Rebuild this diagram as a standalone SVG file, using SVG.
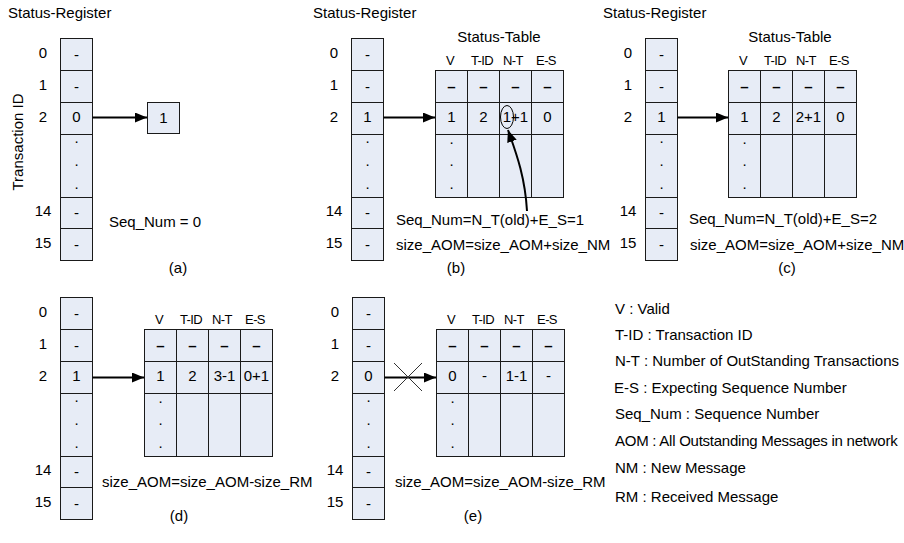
<svg xmlns="http://www.w3.org/2000/svg" width="904" height="543" viewBox="0 0 904 543">
  <style>
    text { font-family: "Liberation Sans", Arial, sans-serif; font-size: 15px; fill: #000; }
    .c { text-anchor: middle; }
    .hdr { font-size: 13px; text-anchor: middle; letter-spacing: -0.6px; }
    .cell { fill: #E7ECF6; stroke: #1a1a1a; stroke-width: 1; }
    .grid { stroke: #1a1a1a; stroke-width: 1; fill: none; }
    .conn { stroke: #000; stroke-width: 2; fill: none; }
    .cross { stroke: #333; stroke-width: 1; }
    .ell { stroke: #000; stroke-width: 1; fill: none; }
  </style>
  <defs>
    <marker id="arrow" viewBox="0 0 12 10" refX="12" refY="5" markerWidth="12" markerHeight="10" markerUnits="userSpaceOnUse" orient="auto">
      <path d="M0,0 L12,5 L0,10 z" fill="#000"/>
    </marker>
    <!-- 16-entry status register column (rows 0,1,2, dots, 14, 15) -->
    <g id="register-shape">
      <rect class="cell" x="0.5" y="0.5" width="32" height="222"/>
      <path class="grid" d="M0.5,32.5 H32.5 M0.5,64.5 H32.5 M0.5,96.5 H32.5 M0.5,159.5 H32.5 M0.5,190.5 H32.5"/>
      <text class="c" x="16.5" y="22">-</text>
      <text class="c" x="16.5" y="54">-</text>
      <text class="c" x="16.5" y="105">.</text>
      <text class="c" x="16.5" y="128">.</text>
      <text class="c" x="16.5" y="151">.</text>
      <text class="c" x="16.5" y="180">-</text>
      <text class="c" x="16.5" y="212">-</text>
      <text class="c" x="-17" y="20">0</text>
      <text class="c" x="-17" y="52">1</text>
      <text class="c" x="-17" y="84">2</text>
      <text class="c" x="-17" y="178">14</text>
      <text class="c" x="-17" y="210">15</text>
    </g>
    <!-- 4-column status table grid with header row -->
    <g id="table-shape">
      <rect class="cell" x="0.5" y="0.5" width="128" height="127"/>
      <path class="grid" d="M32.5,0.5 V127.5 M64.5,0.5 V127.5 M96.5,0.5 V127.5 M0.5,32.5 H128.5 M0.5,64.5 H128.5"/>
      <text class="hdr" x="15" y="-5">V</text>
      <text class="hdr" x="47" y="-5">T-ID</text>
      <text class="hdr" x="78" y="-5">N-T</text>
      <text class="hdr" x="111" y="-5">E-S</text>
      <text class="c" x="16.5" y="22" font-weight="bold">–</text>
      <text class="c" x="48.5" y="22" font-weight="bold">–</text>
      <text class="c" x="80.5" y="22" font-weight="bold">–</text>
      <text class="c" x="112.5" y="22" font-weight="bold">–</text>
      <text class="c" x="16.5" y="74">.</text>
      <text class="c" x="16.5" y="96">.</text>
      <text class="c" x="16.5" y="119">.</text>
    </g>
  </defs>

  <!-- panel titles -->
  <text x="8" y="18">Status-Register</text>
  <text x="313" y="18">Status-Register</text>
  <text x="603" y="18">Status-Register</text>
  <text class="c" x="499" y="42">Status-Table</text>
  <text class="c" x="790" y="42">Status-Table</text>
  <text class="c" transform="translate(23,142) rotate(-90)" font-size="16">Transaction ID</text>

  <!-- (a) -->
  <g id="reg-a">
    <use href="#register-shape" x="60" y="38"/>
    <text class="c" x="76.5" y="122">0</text>
  </g>
  <g id="box-a">
    <rect class="cell" x="147.5" y="102.5" width="32" height="31"/>
    <text class="c" x="163.5" y="123" font-size="17">1</text>
  </g>
  <text x="109" y="227">Seq_Num = 0</text>
  <text class="c" x="178" y="273">(a)</text>

  <!-- (b) -->
  <g id="reg-b">
    <use href="#register-shape" x="351" y="38"/>
    <text class="c" x="367.5" y="122">1</text>
  </g>
  <g id="table-b">
    <use href="#table-shape" x="435" y="70"/>
    <text class="c" x="451.5" y="122">1</text>
    <text class="c" x="483.5" y="122">2</text>
    <text class="c" x="515.5" y="122">1+1</text>
    <text class="c" x="547.5" y="122">0</text>
    <ellipse class="ell" cx="507" cy="117" rx="6.5" ry="11.5"/>
  </g>
  <text x="396" y="225">Seq_Num=N_T(old)+E_S=1</text>
  <text x="396" y="250">size_AOM=size_AOM+size_NM</text>
  <text class="c" x="456" y="273">(b)</text>

  <!-- (c) -->
  <g id="reg-c">
    <use href="#register-shape" x="645" y="38"/>
    <text class="c" x="661.5" y="122">1</text>
  </g>
  <g id="table-c">
    <use href="#table-shape" x="728" y="70"/>
    <text class="c" x="744.5" y="122">1</text>
    <text class="c" x="776.5" y="122">2</text>
    <text class="c" x="808.5" y="122">2+1</text>
    <text class="c" x="840.5" y="122">0</text>
  </g>
  <text x="689" y="224">Seq_Num=N_T(old)+E_S=2</text>
  <text x="690" y="250">size_AOM=size_AOM+size_NM</text>
  <text class="c" x="787" y="273">(c)</text>

  <!-- (d) -->
  <g id="reg-d">
    <use href="#register-shape" x="60" y="297"/>
    <text class="c" x="76.5" y="381">1</text>
  </g>
  <g id="table-d">
    <use href="#table-shape" x="144" y="329"/>
    <text class="c" x="160.5" y="381">1</text>
    <text class="c" x="192.5" y="381">2</text>
    <text class="c" x="224.5" y="381">3-1</text>
    <text class="c" x="256.5" y="381">0+1</text>
  </g>
  <text x="102" y="487">size_AOM=size_AOM-size_RM</text>
  <text class="c" x="179" y="521">(d)</text>

  <!-- (e) -->
  <g id="reg-e">
    <use href="#register-shape" x="352" y="297"/>
    <text class="c" x="368.5" y="381">0</text>
  </g>
  <g id="table-e">
    <use href="#table-shape" x="436" y="329"/>
    <text class="c" x="452.5" y="381">0</text>
    <text class="c" x="484.5" y="381">-</text>
    <text class="c" x="516.5" y="381">1-1</text>
    <text class="c" x="548.5" y="381">-</text>
  </g>
  <text x="395" y="487">size_AOM=size_AOM-size_RM</text>
  <text class="c" x="473" y="521">(e)</text>

  <!-- legend -->
  <g id="legend">
    <text x="615" y="314">V : Valid</text>
    <text x="615" y="340">T-ID : Transaction ID</text>
    <text x="615" y="366">N-T : Number of OutStanding Transactions</text>
    <text x="614" y="393">E-S : Expecting Sequence Number</text>
    <text x="615" y="419">Seq_Num : Sequence Number</text>
    <text x="615" y="446" letter-spacing="-0.25">AOM : All Outstanding Messages in network</text>
    <text x="615" y="473">NM : New Message</text>
    <text x="615" y="502">RM : Received Message</text>
  </g>

  <!-- connectors -->
  <g id="connectors">
    <line class="conn" x1="92.5" y1="117.5" x2="147" y2="117.5" marker-end="url(#arrow)"/>
    <line class="conn" x1="383.5" y1="117.5" x2="435" y2="117.5" marker-end="url(#arrow)"/>
    <line class="conn" x1="677.5" y1="117.5" x2="728" y2="117.5" marker-end="url(#arrow)"/>
    <line class="conn" x1="92.5" y1="377.5" x2="144" y2="377.5" marker-end="url(#arrow)"/>
    <line class="conn" x1="384.5" y1="377.5" x2="436" y2="377.5" marker-end="url(#arrow)"/>
    <path class="conn" d="M527,211 C525,175 515,150 508,130" marker-end="url(#arrow)"/>
    <line class="cross" x1="394" y1="363" x2="422" y2="391"/>
    <line class="cross" x1="394" y1="391" x2="422" y2="363"/>
  </g>
</svg>
